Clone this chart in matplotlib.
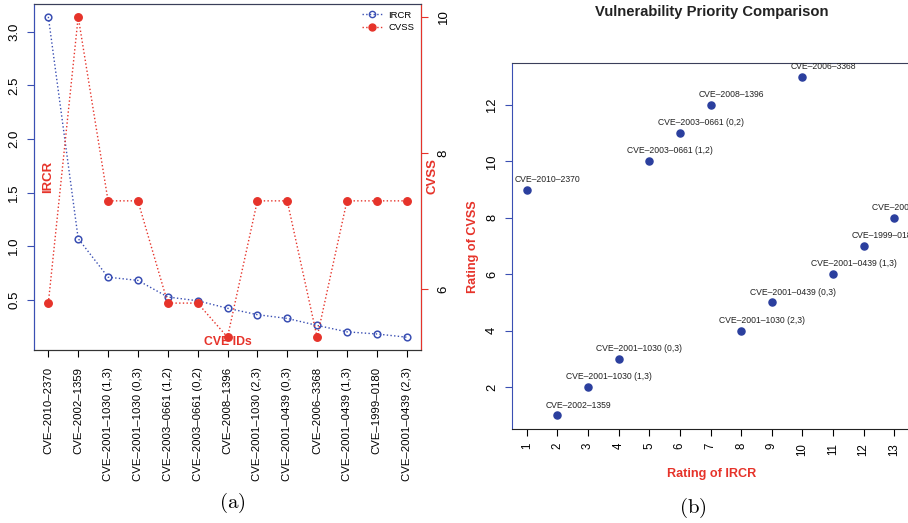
import matplotlib
matplotlib.use("Agg")
import matplotlib.pyplot as plt
from matplotlib.lines import Line2D

plt.rcParams['font.family'] = ['Liberation Sans', 'DejaVu Sans']
plt.rcParams['mathtext.fontset'] = 'cm'

# panel (a) data
cve_ids = ["CVE–2010–2370", "CVE–2002–1359", "CVE–2001–1030 (1,3)", "CVE–2001–1030 (0,3)",
           "CVE–2003–0661 (1,2)", "CVE–2003–0661 (0,2)", "CVE–2008–1396", "CVE–2001–1030 (2,3)",
           "CVE–2001–0439 (0,3)", "CVE–2006–3368", "CVE–2001–0439 (1,3)", "CVE–1999–0180",
           "CVE–2001–0439 (2,3)"]
ircr = [3.14, 1.07, 0.71, 0.68, 0.525, 0.49, 0.42, 0.36, 0.325, 0.26, 0.20, 0.18, 0.15]
cvss = [5.8, 10.0, 7.3, 7.3, 5.8, 5.8, 5.3, 7.3, 7.3, 5.3, 7.3, 7.3, 7.3]

# panel (b) data: rank by IRCR vs rank by CVSS
rank_ircr = [1, 2, 3, 4, 5, 6, 7, 8, 9, 10, 11, 12, 13]
rank_cvss = [9, 1, 2, 3, 10, 11, 12, 4, 5, 13, 6, 7, 8]

BLUE = '#3a4fb3'
NAVY = '#2b3f9e'
RED = '#e6332a'

fig = plt.figure(figsize=(9.08, 5.23), dpi=100)

# ---- (a) ----
ax = fig.add_axes([34/908, 1-350/523, 387/908, 346/523])
xs = list(range(1, len(cve_ids) + 1))
ax.plot(xs, ircr, linestyle=':', color=BLUE, lw=1, marker='o', ms=4.8,
        mfc='none', mec=BLUE, mew=1.1)
ax.set_xlim(0.52, 13.48)
lo, hi = min(ircr), max(ircr)
ax.set_ylim(lo - 0.04*(hi-lo), hi + 0.04*(hi-lo))
ax.set_yticks([0.5, 1.0, 1.5, 2.0, 2.5, 3.0])
ax.set_yticklabels(['0.5', '1.0', '1.5', '2.0', '2.5', '3.0'], rotation=90, va='center')
ax.set_xticks(xs)
ax.set_xticklabels(cve_ids, rotation=90, fontsize=8.2)
ax.tick_params(axis='y', colors=BLUE, labelcolor='black', length=5, width=0.8, pad=5, labelsize=9.5)
ax.tick_params(axis='x', length=5, width=0.8, pad=7)
ax.spines['left'].set_color(BLUE)
ax.spines['top'].set_color('#3a3f5a')
ax.spines['bottom'].set_color('#333333')
ax.text(0.02, 0.5, 'IRCR', transform=ax.transAxes, rotation=90, color=RED,
        fontweight='bold', fontsize=9.5, ha='left', va='center')
ax.text(0.5, 0.023, 'CVE IDs', transform=ax.transAxes, color=RED,
        fontweight='bold', fontsize=8.8, ha='center', va='center')

ax2 = ax.twinx()
ax2.plot(xs, cvss, linestyle=':', color=RED, lw=1, marker='o', ms=5.4,
         mfc=RED, mec=RED)
lo, hi = min(cvss), max(cvss)
ax2.set_ylim(lo - 0.04*(hi-lo), hi + 0.04*(hi-lo))
ax2.set_yticks([6, 8, 10])
ax2.set_yticklabels(['6', '8', '10'], rotation=90, va='center')
ax2.tick_params(axis='y', colors=RED, labelcolor='black', length=5, width=0.8, pad=7, labelsize=9.5)
ax2.spines['right'].set_color(RED)
ax2.spines['left'].set_color(BLUE)
ax2.spines['top'].set_color('#3a3f5a')
ax2.spines['bottom'].set_color('#333333')
fig.text(432/908, 1-176/523, 'CVSS', rotation=90, color=RED, fontweight='bold',
         fontsize=9.5, ha='center', va='center')

handles = [Line2D([], [], linestyle=':', color=BLUE, marker='o', mfc='none', mec=BLUE, ms=4.5, lw=1),
           Line2D([], [], linestyle=':', color=RED, marker='o', mfc=RED, mec=RED, ms=5, lw=1)]
ax2.legend(handles, ['IRCR', 'CVSS'], loc='upper right', frameon=False, fontsize=6.8,
           handlelength=2.2, handletextpad=0.6, labelspacing=0.4, borderaxespad=0.3,
           bbox_to_anchor=(1.0, 1.0))

fig.text(232/908, 1-503/523, r'$(\mathrm{a})$', ha='center', va='center', fontsize=15)

# ---- (b) ----
bx = fig.add_axes([512/908, 1-429/523, 397/908, 366/523])
bx.scatter(rank_ircr, rank_cvss, s=26, color=NAVY, zorder=3)
for x, y, name in zip(rank_ircr, rank_cvss, cve_ids):
    # labels sit above and a bit to the right of each point
    bx.annotate(name, (x, y), xytext=(15, 7.5), textcoords='offset points',
                ha='center', va='center', fontsize=6.2, color='#222222', annotation_clip=False)
bx.set_xlim(0.52, 13.48)
bx.set_ylim(0.52, 13.48)
bx.set_xticks(rank_ircr)
bx.set_xticklabels([str(v) for v in rank_ircr], rotation=90)
bx.set_yticks([2, 4, 6, 8, 10, 12])
bx.set_yticklabels(['2', '4', '6', '8', '10', '12'], rotation=90, va='center')
bx.tick_params(axis='x', length=5, width=0.8, pad=5, labelsize=8.3)
bx.tick_params(axis='y', colors=BLUE, labelcolor='black', length=5, width=0.8, pad=5, labelsize=9.3)
bx.spines['left'].set_color(BLUE)
bx.spines['top'].set_color('#3a3f5a')
bx.spines['bottom'].set_color('#222222')
fig.text(712/908, 1-12/523, 'Vulnerability Priority Comparison', fontweight='bold',
         fontsize=10.6, ha='center', va='center', color='#222222')
fig.text(712/908, 1-474/523, 'Rating of IRCR', color=RED, fontweight='bold',
         fontsize=9.1, ha='center', va='center')
fig.text(473/908, 1-247/523, 'Rating of CVSS', color=RED, fontweight='bold',
         fontsize=9.1, rotation=90, ha='center', va='center')

fig.text(693/908, 1-508/523, r'$(\mathrm{b})$', ha='center', va='center', fontsize=15)

fig.savefig('out.png', dpi=100)
